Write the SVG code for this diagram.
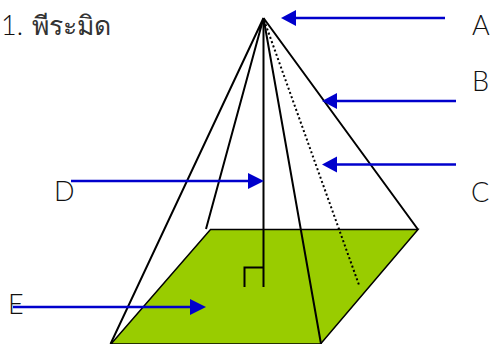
<svg xmlns="http://www.w3.org/2000/svg" width="493" height="344" viewBox="0 0 493 344">
<style>
.e{fill:none;stroke:#000;stroke-width:2}
.a{stroke:#0000cc;stroke-width:2.600;fill:none}
.h{fill:#0000cc}
text{font-family:"Lato","Liberation Sans",sans-serif;font-weight:300;font-size:27px;fill:#111}
.t{font-family:"Noto Sans","Liberation Sans",sans-serif;font-weight:100;font-size:26.500px;fill:#333}
</style>
<rect width="493" height="344" fill="#fff"/>
<text id="title" x="1" y="35">1. <tspan class="t" x="32">พีระมิด</tspan></text>
<g id="base"><path d="M210.500 229.500H418L320.500 344H111Z" fill="#99cc00" stroke="#000" stroke-width="1.500"/></g>
<g id="pyramid-edges">
<path class="e" d="M263.500 18L110.500 344M263.500 18L206 229M263.500 18L321 344M263.500 18L418 229.500"/>
<path class="e" d="M263.500 18V287"/>
<path d="M264 20L359 285" fill="none" stroke="#000" stroke-width="2" stroke-dasharray="2 2.500"/>
<path class="e" d="M244.500 287V267.500H263.500"/>
</g>
<g id="connectors">
<path class="a" d="M445 18H295"/><path class="h" d="M281 18L296 10V26Z"/>
<path class="a" d="M456 101H336"/><path class="h" d="M322 101L337 93V109Z"/>
<path class="a" d="M456 164.500H336"/><path class="h" d="M322 164.500L337 156.500V172.500Z"/>
<path class="a" d="M71 181H250"/><path class="h" d="M264 181L248 173V189Z"/>
<path class="a" d="M13 307H192"/><path class="h" d="M206 307L190 299V315Z"/>
</g>
<g id="label-a"><text x="472" y="35">A</text></g>
<g id="label-b"><text x="472" y="91">B</text></g>
<g id="label-c"><text x="471" y="202">C</text></g>
<g id="label-d"><text x="54" y="201">D</text></g>
<g id="label-e"><text x="8" y="314">E</text></g>
</svg>
